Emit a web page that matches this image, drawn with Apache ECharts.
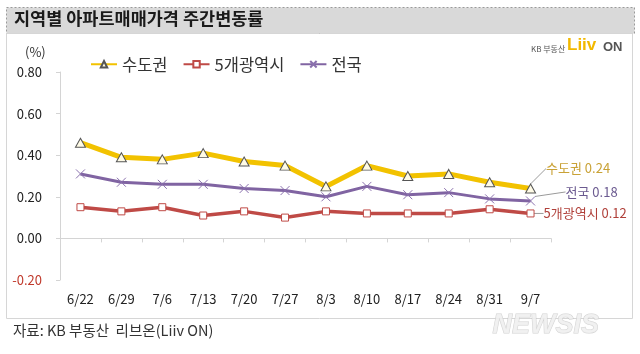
<!DOCTYPE html>
<html>
<head>
<meta charset="utf-8">
<script src="https://cdn.jsdelivr.net/npm/echarts@6/dist/echarts.min.js"></script>
<style>
  html, body { margin: 0; padding: 0; background: #fff; }
  #chart { width: 640px; height: 354px; }
</style>
</head>
<body>
<div id="chart"></div>
<script>
var FONT = '"Noto Sans CJK KR", "Noto Sans", sans-serif';

// 주간 날짜
var weeks = ['6/22', '6/29', '7/6', '7/13', '7/20', '7/27', '8/3', '8/10', '8/17', '8/24', '8/31', '9/7'];
// 수도권
var capital = [0.46, 0.39, 0.38, 0.41, 0.37, 0.35, 0.25, 0.35, 0.30, 0.31, 0.27, 0.24];
// 5개광역시
var metro5 = [0.15, 0.13, 0.15, 0.11, 0.13, 0.10, 0.13, 0.12, 0.12, 0.12, 0.14, 0.12];
// 전국
var nation = [0.31, 0.27, 0.26, 0.26, 0.24, 0.23, 0.20, 0.25, 0.21, 0.22, 0.19, 0.18];

var myChart = echarts.init(document.getElementById('chart'));

// 마지막 점에만 라벨 달기
function withEndLabel(arr, name, color) {
    return arr.map(function (v, i) {
        if (i !== arr.length - 1) return v;
        return {
            value: v,
            label: {
                show: true,
                position: 'right',
                distance: 0,
                formatter: name + ' ' + v.toFixed(2),
                color: color,
                fontSize: 13,
                fontFamily: FONT
            }
        };
    });
}

// 라벨 이동 (마지막 점)
function endLayout(dx, dy) {
    return function (params) {
        if (params.dataIndex !== weeks.length - 1) return {};
        return { dx: dx, dy: dy };
    };
}

var leader = { show: true, length2: 0, lineStyle: { color: '#9a9a9a', width: 1 } };

var crossPath = 'path://M0,0L10,10M10,0L0,10';

myChart.setOption({
    animation: false,
    textStyle: { fontFamily: FONT },
    grid: { left: 60, top: 72, width: 491, height: 208 },
    legend: {
        left: 85,
        top: 51,
        itemWidth: 26,
        itemHeight: 8,
        itemGap: 15,
        textStyle: { fontSize: 16.5, color: '#333', fontFamily: FONT },
        data: ['수도권', '5개광역시', '전국']
    },
    xAxis: [
        {
            type: 'category',
            data: weeks,
            position: 'bottom',
            axisLine: { show: false, onZero: false },
            axisTick: { show: false },
            axisLabel: { margin: 13, fontSize: 13, color: '#222', fontFamily: FONT }
        },
        {
            type: 'category',
            data: weeks,
            position: 'bottom',
            axisLine: { show: true, onZero: true, lineStyle: { color: '#d4d4d4', width: 1 } },
            axisTick: { show: true, length: 4, lineStyle: { color: '#d4d4d4' } },
            axisLabel: { show: false }
        }
    ],
    yAxis: {
        type: 'value',
        min: -0.2,
        max: 0.8,
        interval: 0.2,
        splitLine: { show: false },
        axisLine: { show: true, lineStyle: { color: '#d4d4d4' } },
        axisTick: { show: true, length: 4, lineStyle: { color: '#d4d4d4' } },
        axisLabel: {
            margin: 18,
            fontSize: 13,
            fontFamily: FONT,
            formatter: function (v) { return v.toFixed(2); },
            color: function (v) { return Number(v) < 0 ? '#c0392b' : '#222'; }
        }
    },
    series: [
        {
            name: '수도권',
            type: 'line',
            data: withEndLabel(capital, '수도권', '#c9a236'),
            symbol: 'triangle',
            symbolSize: [10, 9],
            lineStyle: { color: '#f2c200', width: 5 },
            itemStyle: { color: '#fffbe6', borderColor: '#555', borderWidth: 1 },
            labelLayout: endLayout(10, -20),
            labelLine: leader,
            z: 3
        },
        {
            name: '5개광역시',
            type: 'line',
            data: withEndLabel(metro5, '5개광역시', '#b0403a'),
            symbol: 'rect',
            symbolSize: 7,
            lineStyle: { color: '#bf4a46', width: 3.5 },
            itemStyle: { color: '#fff', borderColor: '#bf4a46', borderWidth: 1 },
            labelLayout: endLayout(9, 0),
            labelLine: leader,
            z: 2
        },
        {
            name: '전국',
            type: 'line',
            data: withEndLabel(nation, '전국', '#6b5a90'),
            symbol: crossPath,
            symbolSize: 9,
            lineStyle: { color: '#8064a2', width: 3 },
            itemStyle: { color: 'none', borderColor: '#8a70ad', borderWidth: 1 },
            labelLayout: endLayout(28, -9),
            labelLine: leader,
            z: 2
        }
    ],
    graphic: [
        // 제목 바
        {
            type: 'rect',
            shape: { x: 6.5, y: 7.5, width: 628, height: 26 },
            style: { fill: '#d9d9d9', stroke: '#9a9a9a', lineDash: [2, 2], lineWidth: 1 },
            z: -1
        },
        {
            type: 'text',
            left: 14, top: 10,
            style: { text: '지역별 아파트매매가격 주간변동률', fontSize: 17.5, fontWeight: 'bold', fill: '#1a1a1a', fontFamily: FONT }
        },
        // 차트 테두리
        {
            type: 'rect',
            shape: { x: 6.5, y: 33.5, width: 626, height: 285 },
            style: { fill: 'none', stroke: '#d6d6d6', lineWidth: 1 },
            z: -1
        },
        {
            type: 'text',
            left: 25, top: 46,
            style: { text: '(%)', fontSize: 13, fill: '#333', fontFamily: FONT }
        },
        // 로고
        {
            type: 'text',
            left: 531, top: 45,
            style: { text: 'KB 부동산', fontSize: 8, fill: '#555', fontFamily: FONT }
        },
        {
            type: 'text',
            left: 567, top: 37,
            style: { text: 'Liiv', fontSize: 17, fontWeight: 'bold', fill: '#f2b800', fontFamily: '"Liberation Sans", sans-serif' }
        },
        {
            type: 'text',
            left: 603, top: 41,
            style: { text: 'ON', fontSize: 13, fontWeight: 'bold', fill: '#555', fontFamily: '"Liberation Sans", sans-serif' }
        },
        // 출처
        {
            type: 'text',
            left: 13, top: 323,
            style: { text: '자료: KB 부동산  리브온(Liiv ON)', fontSize: 14.5, fill: '#333', fontFamily: FONT }
        },
        // 워터마크
        {
            type: 'text',
            left: 492, top: 312,
            style: {
                text: 'NEWSIS', fontSize: 27, fontWeight: 'bold', fontStyle: 'italic',
                fill: 'rgba(240,240,240,0.9)', stroke: 'rgba(190,190,190,0.7)', lineWidth: 1,
                fontFamily: '"Liberation Sans", sans-serif'
            },
            z: 10
        }
    ]
});
</script>
</body>
</html>
